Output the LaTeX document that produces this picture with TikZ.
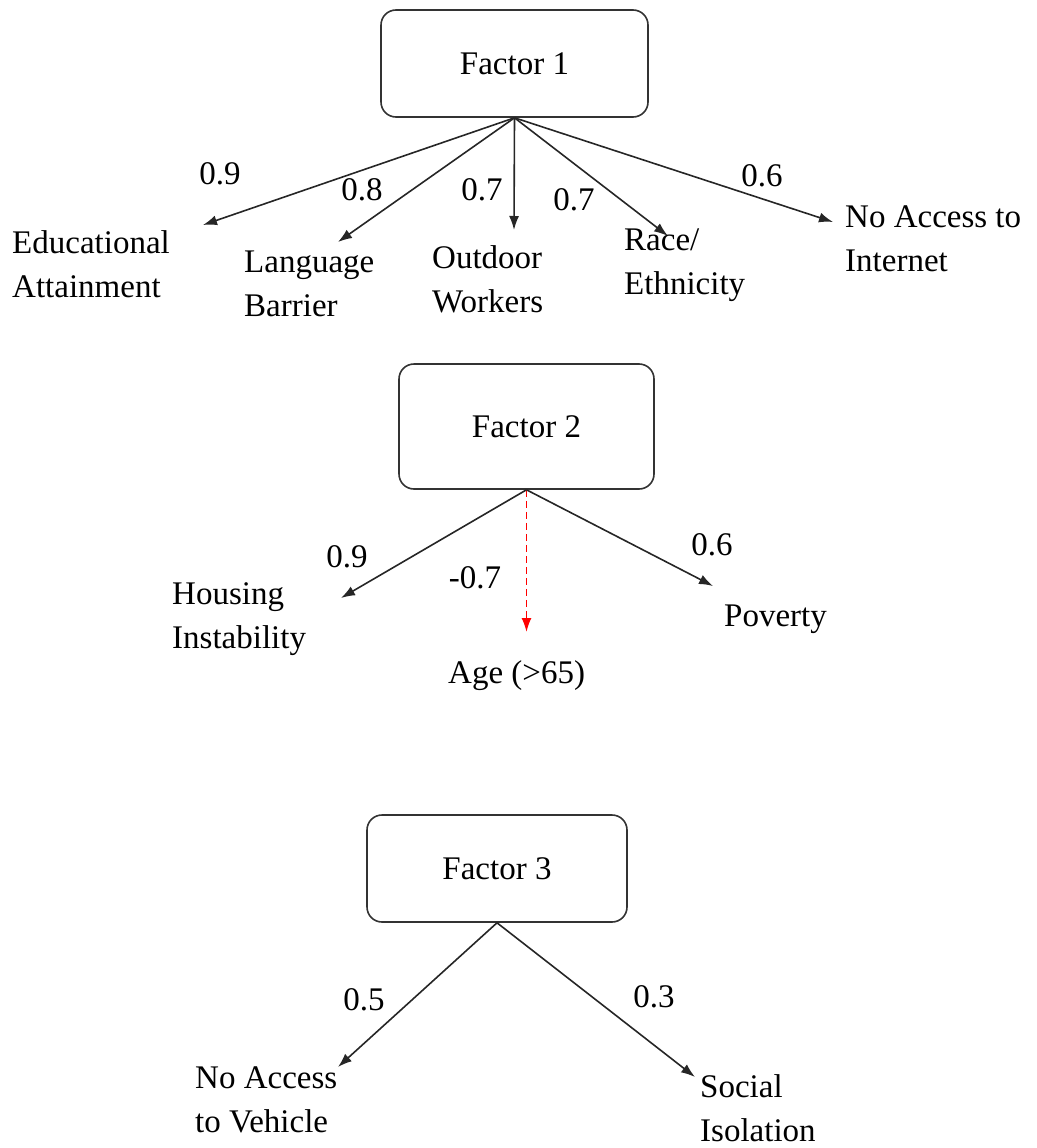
\documentclass[tikz,border=0pt]{standalone}
\usepackage{fontspec}
\setmainfont{Liberation Serif}
\usepackage{tikz}
\usetikzlibrary{arrows.meta}

\begin{document}
\begin{tikzpicture}[x=1pt,y=-1pt, factor/.style={draw=black!80,line width=1.6pt,rounded corners=15pt,align=center,font=\fontsize{33}{44}\selectfont}, item/.style={anchor=west,align=left,inner sep=0pt,font=\fontsize{33}{44}\selectfont}, load/.style={inner sep=0pt,font=\fontsize{33}{44}\selectfont}, arrow/.style={-{Latex[length=14pt,width=10pt]},line width=1.6pt,black!85}, negarrow/.style={-{Latex[length=14pt,width=10pt]},line width=1.6pt,red,dash pattern=on 7pt off 4pt}]
\useasboundingbox (0,0) rectangle (1036,1148);
% factor 1
\node[factor,minimum width=267pt,minimum height=107pt] (f1) at (514.5,63.5) {Factor 1};
\node[item] (edu) at (12,264) {Educational\\Attainment};
\node[item] (lang) at (244,284) {Language\\Barrier};
\node[item] (outd) at (432,279) {Outdoor\\Workers};
\node[item] (race) at (624,265) {Race/\\Ethnicity};
\node[item] (inet) at (845,239) {No Access to\\Internet};
\coordinate (edu-end) at (203,225);
\coordinate (lang-end) at (338,242);
\coordinate (outd-end) at (514,230);
\coordinate (race-end) at (668,236);
\coordinate (inet-end) at (833,222);
\draw[arrow] (f1.south) -- (edu-end);
\draw[arrow] (f1.south) -- (lang-end);
\draw[arrow] (f1.south) -- (outd-end);
\draw[arrow] (f1.south) -- (race-end);
\draw[arrow] (f1.south) -- (inet-end);
\node[load] (l-edu) at (220,174) {0.9};
\node[load] (l-lang) at (362,190) {0.8};
\node[load] (l-outd) at (482,190) {0.7};
\node[load] (l-race) at (574,200) {0.7};
\node[load] (l-inet) at (762,176) {0.6};
% factor 2
\node[factor,minimum width=255pt,minimum height=125pt] (f2) at (526.5,426.5) {Factor 2};
\node[item] (hous) at (172,619) {Housing\\Instability};
\node[item] (age) at (448,676) {Age (>65)};
\node[item] (pov) at (724,619) {Poverty};
\coordinate (hous-end) at (341,598);
\coordinate (age-end) at (526.5,632);
\coordinate (pov-end) at (713,586);
\draw[arrow] (f2.south) -- (hous-end);
\draw[negarrow] (f2.south) -- (age-end);
\draw[arrow] (f2.south) -- (pov-end);
\node[load] (l-hous) at (347,557) {0.9};
\node[load] (l-age) at (475,578) {-0.7};
\node[load] (l-pov) at (712,545) {0.6};
% factor 3
\node[factor,minimum width=260pt,minimum height=107pt] (f3) at (497,868.5) {Factor 3};
\node[item] (veh) at (195,1100) {No Access\\to Vehicle};
\node[item] (soc) at (700,1108) {Social\\Isolation};
\coordinate (veh-end) at (338,1067);
\coordinate (soc-end) at (695,1077);
\draw[arrow] (f3.south) -- (veh-end);
\draw[arrow] (f3.south) -- (soc-end);
\node[load] (l-veh) at (364,1000) {0.5};
\node[load] (l-soc) at (654,997) {0.3};
\end{tikzpicture}
\end{document}
